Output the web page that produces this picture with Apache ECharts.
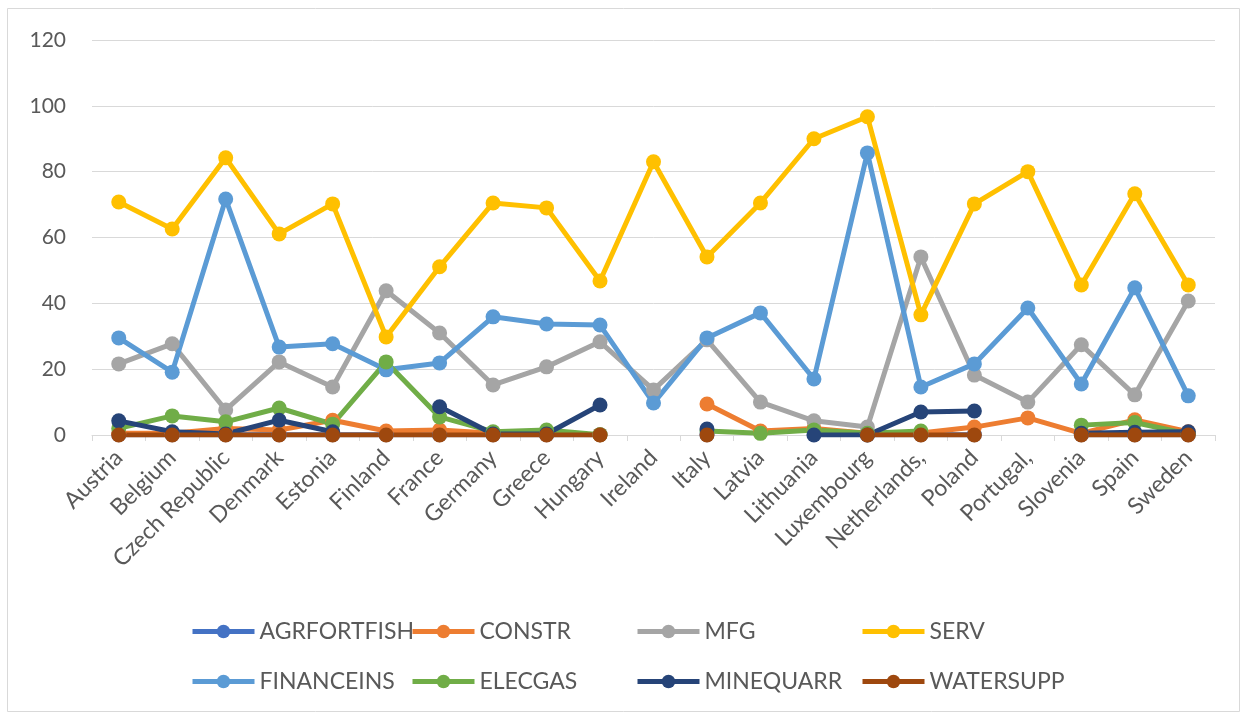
<!DOCTYPE html>
<html><head><meta charset="utf-8">
<script src="https://cdn.jsdelivr.net/npm/echarts@6/dist/echarts.min.js"></script>
<style>html,body{margin:0;padding:0;background:#fff}#c{width:1246px;height:717px}</style>
</head><body><div id="c"></div>
<script>
const categories = ["Austria","Belgium","Czech Republic","Denmark","Estonia","Finland","France","Germany","Greece","Hungary","Ireland","Italy","Latvia","Lithuania","Luxembourg","Netherlands,","Poland","Portugal,","Slovenia","Spain","Sweden"];
const yTicks = [0,20,40,60,80,100,120];
const AGRFORTFISH = [0.1,0.1,0.1,0.1,0.1,0.1,0.1,0.1,0.1,0.1,null,0.1,null,null,0.1,0.1,0.1,null,0.1,0.1,0.1];
const CONSTR = [0.5,0.5,2,1.5,4.5,1.2,1.5,0.5,0.3,0.1,null,9.4,1.2,2,0.5,0.6,2.4,5.2,0.5,4.6,1];
const MFG = [21.6,27.7,7.6,22.2,14.6,43.8,31,15.2,20.7,28.3,13.7,28.9,10,4.3,2.4,54.1,18.2,10,27.4,12.2,40.7];
const SERV = [70.8,62.6,84.2,61.1,70.2,29.8,51.1,70.5,69,46.8,83,54.1,70.5,90,96.7,36.5,70.2,80,45.6,73.3,45.6];
const FINANCEINS = [29.5,19.1,71.7,26.7,27.7,19.8,21.9,35.9,33.7,33.4,9.7,29.5,37.1,17,85.7,14.6,21.6,38.6,15.5,44.7,11.9];
const ELECGAS = [2,5.8,4,8.2,3.3,22.2,5.5,1,1.5,0.1,null,1.2,0.5,1.5,0.5,1.2,null,null,3,3.8,0.3];
const MINEQUARR = [4.3,1,0.3,4.5,1,null,8.6,0.3,0.3,9.1,null,1.8,null,0,0,7,7.3,null,0.5,0.8,1];
const WATERSUPP = [0,0,0,0,0,0,0,0,0,0,null,0,null,null,0,0,0,null,0,0,0];

const seriesDefs = [
  ["AGRFORTFISH", AGRFORTFISH, "#4472C4"],
  ["CONSTR", CONSTR, "#ED7D31"],
  ["MFG", MFG, "#A5A5A5"],
  ["SERV", SERV, "#FFC000"],
  ["FINANCEINS", FINANCEINS, "#5B9BD5"],
  ["ELECGAS", ELECGAS, "#70AD47"],
  ["MINEQUARR", MINEQUARR, "#264478"],
  ["WATERSUPP", WATERSUPP, "#9E480E"]
];
const font = "Lato, 'Liberation Sans', sans-serif";
const legendPos = [[190,620],[410,620],[635,620],[860,620],[190,670],[410,670],[635,670],[860,670]];

const chart = echarts.init(document.getElementById('c'));
chart.setOption({
  animation: false,
  backgroundColor: '#fff',
  graphic: [{type:'rect', shape:{x:7.5,y:8.5,width:1232,height:703}, style:{fill:'none', stroke:'#d9d9d9', lineWidth:1}, silent:true, z:-1}],
  grid: {left: 92, right: 31, top: 40, bottom: 282},
  legend: seriesDefs.map((s,i)=>({
    data:[s[0]], left: legendPos[i][0], top: legendPos[i][1], padding:0,
    itemWidth: 62, itemHeight: 17, itemGap: 4,
    lineStyle:{width:5},
    textStyle:{fontFamily:font, fontSize:23, color:'#595959'}
  })),
  xAxis: {
    type:'category', data: categories, boundaryGap: true,
    axisLine:{lineStyle:{color:'#d9d9d9', width:1}},
    axisTick:{show:true, length:6, lineStyle:{color:'#d9d9d9'}},
    axisLabel:{rotate:45, interval:0, fontFamily:font, fontSize:23, color:'#595959', margin:19}
  },
  yAxis: {
    type:'value', min: yTicks[0], max: yTicks[yTicks.length-1], interval: 20,
    axisLine:{show:false}, axisTick:{show:false},
    splitLine:{lineStyle:{color:'#d9d9d9', width:1}},
    axisLabel:{fontFamily:font, fontSize:21, color:'#595959', margin:26}
  },
  series: seriesDefs.map(s=>({
    name:s[0], type:'line', data:s[1], connectNulls:false,
    symbol:'circle', symbolSize:15, showSymbol:true,
    lineStyle:{width:5, color:s[2]}, itemStyle:{color:s[2]}
  }))
});
</script></body></html>
